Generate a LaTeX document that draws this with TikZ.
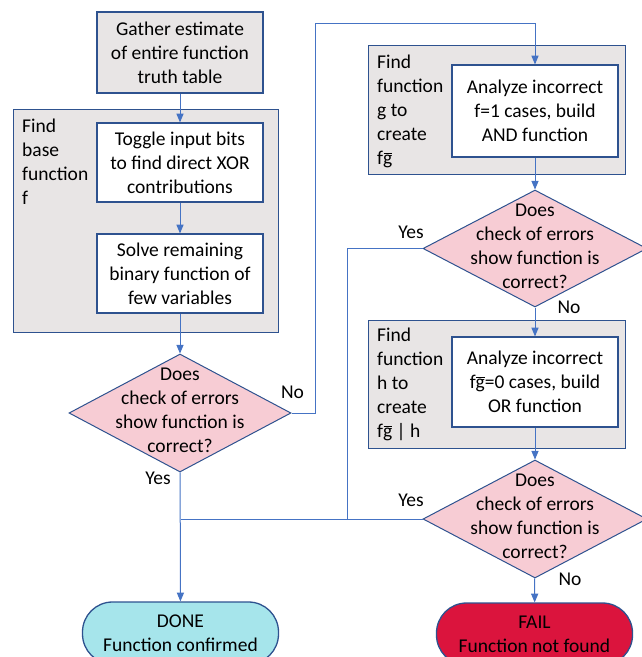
\documentclass[tikz,border=0pt]{standalone}
\usepackage{fontspec}
\setmainfont{Carlito}
\usetikzlibrary{arrows,shapes.geometric}
\definecolor{boxgray}{rgb}{0.91,0.90,0.90}
\definecolor{edgeblue}{rgb}{0.18,0.32,0.56}
\definecolor{linkblue}{rgb}{0.27,0.45,0.77}
\definecolor{askpink}{rgb}{0.97,0.80,0.83}
\definecolor{donecyan}{rgb}{0.65,0.90,0.92}
\definecolor{failred}{rgb}{0.86,0.08,0.24}
\newcommand{\gbar}{\makebox[0pt][l]{\hspace{0.4pt}\rule[10.8pt]{8.4pt}{1.1pt}}g}
\begin{document}
\begin{tikzpicture}[x=1pt,y=-1pt,>=triangle 45,
  font=\fontsize{19.5}{24}\selectfont,
  grp/.style={draw=edgeblue,line width=1.3pt,fill=boxgray,anchor=north west,inner sep=0pt},
  grptext/.style={anchor=north west,align=left,inner sep=0pt},
  task/.style={draw=edgeblue,line width=1.3pt,fill=white,minimum width=166pt,align=center,inner sep=0pt},
  ask/.style={diamond,draw=edgeblue,line width=1pt,fill=askpink,inner sep=0pt,minimum width=222pt,minimum height=118pt},
  asktext/.style={align=center,inner sep=0pt},
  stop/.style={draw=edgeblue,line width=1.3pt,rounded corners=30pt,minimum width=196pt,minimum height=62pt,align=center,inner sep=0pt},
  link/.style={draw=linkblue,line width=1pt},
  answer/.style={inner sep=0pt}]
\useasboundingbox (0,0) rectangle (642,657);

\node[grp,minimum width=265pt,minimum height=223pt] (grpf) at (13,109) {};
\node[grp,minimum width=257pt,minimum height=129pt] (grpg) at (368,45) {};
\node[grp,minimum width=257pt,minimum height=128pt] (grph) at (368,320) {};
\node[grptext] (findf) at (22,119) {Find\\base\\function\\f};
\node[grptext] (findg) at (377,55) {Find\\function\\g to\\create\\f\gbar};
\node[grptext] (findh) at (377,328) {Find\\function\\h to\\create\\f\gbar\ |\ h};

\node[task,fill=boxgray,minimum height=81pt] (gather) at (180,52.5) {Gather estimate\\of entire function\\truth table};
\node[task,minimum height=79pt] (toggle) at (180,162.5) {Toggle input bits\\to find direct XOR\\contributions};
\node[task,minimum height=79pt] (solve) at (180,273.5) {Solve remaining\\binary function of\\few variables};
\node[task,minimum height=92pt] (an1) at (535,111) {Analyze incorrect\\f=1 cases, build\\AND function};
\node[task,minimum height=90pt] (an2) at (535,382) {Analyze incorrect\\f\gbar=0 cases, build\\OR function};

\node[ask] (d1) at (180,413) {};
\node[ask,minimum width=224pt,minimum height=117pt] (d2) at (535,248.5) {};
\node[ask,minimum width=224pt] (d3) at (535,519) {};
\node[asktext] at ([yshift=2.5pt]d1.center) {Does\\check of errors\\show function is\\correct?};
\node[asktext] at ([yshift=2.5pt]d2.center) {Does\\check of errors\\show function is\\correct?};
\node[asktext] at ([yshift=2.5pt]d3.center) {Does\\check of errors\\show function is\\correct?};

\node[stop,fill=donecyan] (done) at (180.5,633) {DONE\\Function confirmed};
\node[stop,fill=failred] (fail) at (534.5,634) {FAIL\\Function not found};

\coordinate (loop) at (315,23);
\coordinate (yesjoin) at (347,519);

\draw[link,->] (gather) -- (toggle);
\draw[link,->] (toggle) -- (solve);
\draw[link,->] (solve) -- (d1);
\draw[link,->] (d1.east) -| (loop) -| (an1.north);
\draw[link,->] (an1) -- (d2);
\draw[link,->] (d2) -- (an2);
\draw[link,->] (an2) -- (d3);
\draw[link,->] (d3) -- (fail);
\draw[link,->] (d1) -- (done);
\draw[link] (d2.west) -| (yesjoin);
\draw[link] (d3.west) -- (d3.west -| done.north);

\node[answer] (no1) at (292.5,392) {No};
\node[answer] (yes1) at (158,478) {Yes};
\node[answer] (yes2) at (411,232) {Yes};
\node[answer] (no2) at (569,307) {No};
\node[answer] (yes3) at (411,500) {Yes};
\node[answer] (no3) at (570,579) {No};
\end{tikzpicture}
\end{document}
